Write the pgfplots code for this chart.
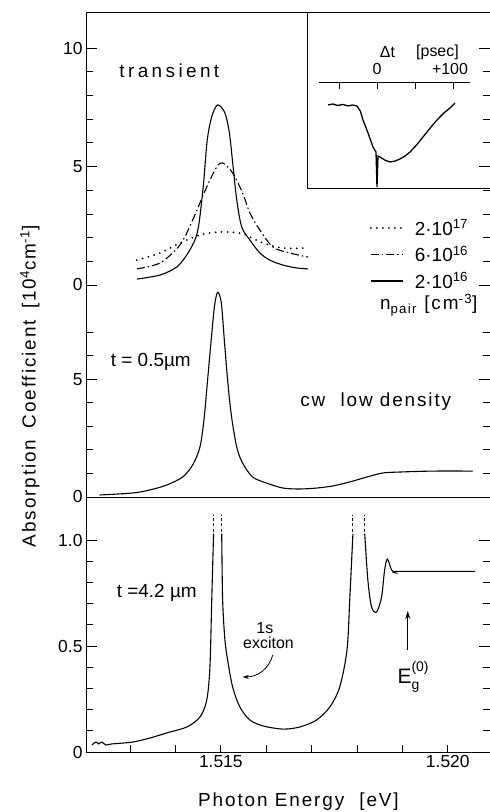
\documentclass[border=0pt]{standalone}
\usepackage{fontspec}
\setmainfont{Liberation Sans}
\newfontfamily\spaced[LetterSpace=10]{Liberation Sans}
\newfontfamily\wide[LetterSpace=18]{Liberation Sans}
\usepackage{pgfplots}
\pgfplotsset{compat=1.18}
\usetikzlibrary{arrows.meta}
\pgfplotsset{
  panel/.style={scale only axis, width=404bp, xmin=1.51203, xmax=1.52093,
    tick align=inside, major tick length=11bp, minor tick length=7bp,
    /pgf/number format/assume math mode=true,
    tick label style={font=\fontsize{17.5}{19}\selectfont},
    axis line style={line width=0.8bp},
    tick style={line width=0.8bp, black}},
  crv/.style={line width=1.1bp, black, no markers, smooth, tension=0.5},
}
\begin{document}
\begin{tikzpicture}
\path[use as bounding box] (-86bp,-60bp) rectangle (404bp,752bp);
% ---------------- top panel (transient)
\begin{axis}[panel, at={(0bp,467bp)}, anchor=south west, height=273bp,
  ymin=0, ymax=11.52, axis x line*=top, axis y line*=box,
  xtick=\empty, minor xtick={1.513,1.514,1.515,1.516},
  ytick={0,5,10}, minor ytick={1,2,3,4,6,7,8,9},
  legend style={draw=none, fill=none, at={(axis cs:1.51828,2.85)}, anchor=north west,
    font=\fontsize{19}{21}\selectfont, row sep=5.5bp, inner sep=0bp,
    nodes={inner sep=2bp},
    /tikz/every odd column/.append style={column sep=9bp}},
  legend cell align=left,
  legend image code/.code={\draw[#1] (0bp,0bp) -- (32bp,0bp);}]
\addplot[crv, line width=2bp, line cap=round, dash pattern=on 0bp off 6bp] coordinates {
(1.51315,1.05) (1.51366,1.35) (1.51410,1.77) (1.51454,2.11) (1.51498,2.24) (1.51542,2.19)
(1.51564,2.03) (1.51593,1.77) (1.51637,1.56) (1.51692,1.56)};
\addplot[crv, dash pattern=on 8bp off 3bp on 1.5bp off 3bp] coordinates {
(1.51315,0.68) (1.51366,0.93) (1.51410,1.69) (1.51438,2.74) (1.51469,4.14) (1.51491,4.98)
(1.51504,5.15) (1.51526,4.73) (1.51548,3.88) (1.51564,3.04) (1.51586,2.32) (1.51615,1.60)
(1.51652,1.35) (1.51692,1.18)};
\addplot[crv] coordinates {
(1.51315,0.25) (1.51366,0.42) (1.51403,0.76) (1.51425,1.27) (1.51443,1.9) (1.51452,2.6)
(1.51462,4.3) (1.51470,6.1) (1.51480,7.1) (1.51493,7.6) (1.51509,7.26) (1.51519,6.4)
(1.51527,5.0) (1.51535,3.6) (1.51546,2.45) (1.51564,1.9) (1.51586,1.35) (1.51608,1.05)
(1.51637,0.84) (1.51667,0.72) (1.51692,0.68)};
\legend{2·10\textsuperscript{17},6·10\textsuperscript{16},2·10\textsuperscript{16}}
\draw[line width=0.8bp] (axis cs:1.51203,0) -- (axis cs:1.514581,0);
\draw[line width=0.8bp] (axis cs:1.515374,0) -- (axis cs:1.517401,0);
\node[font=\fontsize{19}{21}\selectfont\wide] at (axis cs:1.513866,9.03) {transient};
\end{axis}
% ---------------- inset
\begin{axis}[scale only axis, at={(221bp,564bp)}, anchor=south west,
  width=183bp, height=176bp, xmin=-92.1, xmax=148.7, ymin=0, ymax=176,
  xtick=\empty, ytick=\empty, axis line style={line width=0.8bp}]
\addplot[line width=1.3bp, black, no markers] coordinates {
(-64.5,83) (-58,84) (-52,82.5) (-44.7,83.5) (-38,82) (-32,83) (-26.3,82) (-22,77)
(-18.4,68) (-11.8,55) (-5.3,41) (-1.3,36) (0,1) (1.3,32) (3.9,31) (10,28) (17.1,26)
(24,27) (30.3,29) (37,32) (43.4,36) (52,43) (60.5,51) (70,60) (78.9,68) (88,75)
(96,80) (102.6,85)};
\draw[line width=0.8bp] (axis cs:-76.3,106) -- (axis cs:122.4,106);
\draw[line width=0.8bp] (axis cs:-50,106) -- (axis cs:-50,99);
\draw[line width=0.8bp] (axis cs:0,106) -- (axis cs:0,99);
\draw[line width=0.8bp] (axis cs:50,106) -- (axis cs:50,99);
\draw[line width=0.8bp] (axis cs:100,106) -- (axis cs:100,99);
\node[font=\fontsize{16}{18}\selectfont] at (axis cs:0,119) {0};
\node[font=\fontsize{16}{18}\selectfont] at (axis cs:96,119) {+100};
\node[font=\fontsize{16}{18}\selectfont] at (axis cs:13.8,136) {Δt};
\node[font=\fontsize{16}{18}\selectfont] at (axis cs:79.6,136) {[psec]};
\end{axis}
% ---------------- middle panel (cw, 0.5 um)
\begin{axis}[panel, at={(0bp,255bp)}, anchor=south west, height=212bp,
  ymin=0, ymax=9, axis x line*=bottom, axis y line*=box,
  xtick=\empty, ytick={0,5}, minor ytick={1,2,3,4,6,7}]
\addplot[crv] coordinates {
(1.51233,0.085) (1.51306,0.17) (1.51344,0.30) (1.51381,0.51) (1.51416,0.85) (1.51438,1.36)
(1.51454,2.12) (1.51463,3.3) (1.51471,5.0) (1.51479,6.7) (1.51486,8.1) (1.51493,8.69)
(1.51501,8.25) (1.51508,6.6) (1.51515,4.96) (1.51523,3.5) (1.51535,2.12) (1.51548,1.44)
(1.51570,0.85) (1.51601,0.59) (1.51637,0.38) (1.51674,0.34) (1.51711,0.38) (1.51747,0.47)
(1.51784,0.64) (1.51822,0.85) (1.51857,1.02) (1.51894,1.06) (1.51967,1.10) (1.52055,1.10)};
\node[font=\fontsize{19}{21}\selectfont] at (axis cs:1.513458,5.72) {t = 0.5µm};
\node[font=\fontsize{19}{21}\selectfont\spaced] at (axis cs:1.518414,4.03) {cw\hspace{0.8em}low density};
\node[font=\fontsize{19}{21}\selectfont\spaced] at (axis cs:1.519580,8.14) {n\textsubscript{pair} [cm\textsuperscript{-3}]};
\end{axis}
% ---------------- bottom panel (cw, 4.2 um)
\begin{axis}[panel, at={(0bp,0bp)}, anchor=south west, height=255bp,
  ymin=0, ymax=1.203, xtick pos=bottom,
  xtick={1.515,1.520}, xticklabels={1.515,1.520}, major x tick style={draw=none},
  minor xtick={1.513,1.514,1.515,1.516,1.517,1.518,1.519,1.520},
  ytick={0,0.5,1.0}, yticklabels={0,0.5,1.0},
  minor ytick={0.1,0.2,0.3,0.4,0.6,0.7,0.8,0.9}]
\addplot[crv] coordinates {
(1.51216,0.033) (1.51225,0.047) (1.51231,0.038) (1.51238,0.047) (1.51247,0.033)
(1.51260,0.038) (1.51306,0.047) (1.51344,0.066) (1.51381,0.090) (1.51425,0.118)
(1.51454,0.165) (1.51469,0.245) (1.51476,0.40) (1.51480,0.717) (1.51484,1.03)};
\addplot[crv] coordinates {
(1.51502,1.03) (1.51504,0.717) (1.51509,0.53) (1.51515,0.434) (1.51526,0.307)
(1.51542,0.212) (1.51564,0.151) (1.51593,0.123) (1.51637,0.108) (1.51674,0.118)
(1.51711,0.151) (1.51740,0.212) (1.51762,0.307) (1.51778,0.481) (1.51784,0.717) (1.51791,1.03)};
\addplot[crv] coordinates {
(1.51817,1.03) (1.51824,0.81) (1.51832,0.685) (1.51843,0.66) (1.51854,0.73) (1.51861,0.86)
(1.51867,0.91) (1.51876,0.86) (1.51883,0.846) (1.51894,0.852) (1.52060,0.852)};
\addplot[line width=1.1bp, black, dash pattern=on 3bp off 2.5bp, no markers] coordinates {(1.51484,1.04) (1.51484,1.12)};
\addplot[line width=1.1bp, black, dash pattern=on 3bp off 2.5bp, no markers] coordinates {(1.51502,1.04) (1.51502,1.12)};
\addplot[line width=1.1bp, black, dash pattern=on 3bp off 2.5bp, no markers] coordinates {(1.51791,1.04) (1.51791,1.12)};
\addplot[line width=1.1bp, black, dash pattern=on 3bp off 2.5bp, no markers] coordinates {(1.51817,1.04) (1.51817,1.12)};
\node[font=\fontsize{19}{21}\selectfont] at (axis cs:1.51359,0.75) {t =4.2 µm};
\node[font=\fontsize{16}{18}\selectfont] at (axis cs:1.51597,0.585) {1s};
\node[font=\fontsize{16}{18}\selectfont] at (axis cs:1.51605,0.515) {exciton};
\draw[-{Stealth[length=6bp,width=4bp]}, line width=0.8bp] (axis cs:1.516145,0.458) to[out=-105,in=0] (axis cs:1.515485,0.354);
\draw[-{Stealth[length=8bp,width=5bp]}, line width=0.8bp] (axis cs:1.519119,0.481) -- (axis cs:1.519119,0.665);
\node[font=\fontsize{21}{23}\selectfont, inner sep=0pt] at (axis cs:1.519185,0.354)
  {E\rlap{\raisebox{0.55em}{\fontsize{14}{14}\selectfont(0)}}\raisebox{-0.3em}{\fontsize{14}{14}\selectfont g}\hphantom{\fontsize{14}{14}\selectfont(}};
\end{axis}
\node[rotate=90, font=\fontsize{19}{21}\selectfont\spaced] at (-56bp,366bp)
  {Absorption\hspace{0.6em}Coefficient\hspace{0.6em}[10\textsuperscript{4}cm\textsuperscript{-1}]};
\node[font=\fontsize{19}{21}\selectfont\spaced] at (212.5bp,-50bp) {Photon Energy\hspace{0.8em}[eV]};
\end{tikzpicture}
\end{document}
